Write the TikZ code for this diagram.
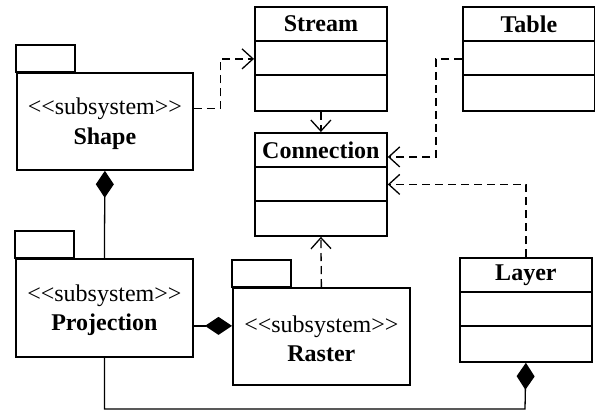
\documentclass[tikz,border=0pt]{standalone}
\usepackage{fontspec}
\setmainfont{Liberation Serif}
\usetikzlibrary{arrows.meta,calc}
\newcommand\umlclassbox[5]{% name, x, y, title, height
  \node[classbox, minimum height=#5pt, anchor=north west] (#1) at (#2,#3) {};
  \node[titletext, anchor=center] (#1-title) at ([yshift=-18pt]#1.north) {#4};
  \draw[boxline] ([yshift=-35pt]#1.north west) -- ([yshift=-35pt]#1.north east);
  \draw[boxline] ([yshift=-69pt]#1.north west) -- ([yshift=-69pt]#1.north east);
}
\newcommand\umlpkg[6]{% name, x, y, width, height, title
  \draw[boxline] (#2,#3) rectangle ++(59,-27);
  \node[pkgbox, minimum width=#4pt, minimum height=#5pt, anchor=north west] (#1) at (#2,#3) {};
  \node[pkgtext] (#1-label) at ([yshift=-2.5pt]#1.center)
    {\textless\kern0pt\textless subsystem\textgreater\kern0pt\textgreater\\\textbf{#6}};
}
\tikzset{
  boxline/.style={line width=1.8pt},
  classbox/.style={draw, line width=1.8pt, minimum width=132pt, inner sep=0pt},
  pkgbox/.style={draw, line width=1.8pt, inner sep=0pt},
  pkgtext/.style={inner sep=0pt, align=center, font=\fontsize{24}{29.5}\selectfont},
  titletext/.style={font=\fontsize{24}{28}\selectfont\bfseries, inner sep=0pt},
  dep/.style={line width=1.3pt, dash pattern=on 8pt off 5pt,
    -{Straight Barb[length=11pt,width=20pt,line width=1.3pt]}},
  comp/.style={line width=1.3pt, -{Diamond[length=27pt,width=18pt,fill=black]}},
}
\begin{document}
\begin{tikzpicture}[x=1pt,y=-1pt]
\useasboundingbox (0,0) rectangle (595,410);
% classes
\umlclassbox{stream}{254}{6}{Stream}{104}
\umlclassbox{table}{462}{6}{Table}{104}
\umlclassbox{connection}{254}{132}{Connection}{103}
\umlclassbox{layer}{459}{257}{Layer}{104}
% packages
\umlpkg{shape}{16}{72}{176}{97}{Shape}
\umlpkg{projection}{15}{258}{177}{98}{Projection}
\umlpkg{raster}{232}{287}{177}{97}{Raster}
% dependencies
\draw[dep] ([yshift=13pt]shape.east) -- ++(27,0) |- (stream.west);
\draw[dep] (stream.south) -- (connection.north);
\draw[dep] (table.west) -- ++(-26,0) |- ([yshift=27.5pt]connection.east);
\draw[dep] (layer.north) |- (connection.east);
\draw[dep] (raster.north) -- (connection.south);
% compositions
\draw[comp] (projection.north) -- (shape.south);
\draw[comp] ([yshift=-18pt]projection.east) -- ([yshift=-18pt]projection.east -| raster.west);
\coordinate (bottom) at (525,409);
\draw[comp] (projection.south) |- (bottom) -- (layer.south);
\end{tikzpicture}
\end{document}
